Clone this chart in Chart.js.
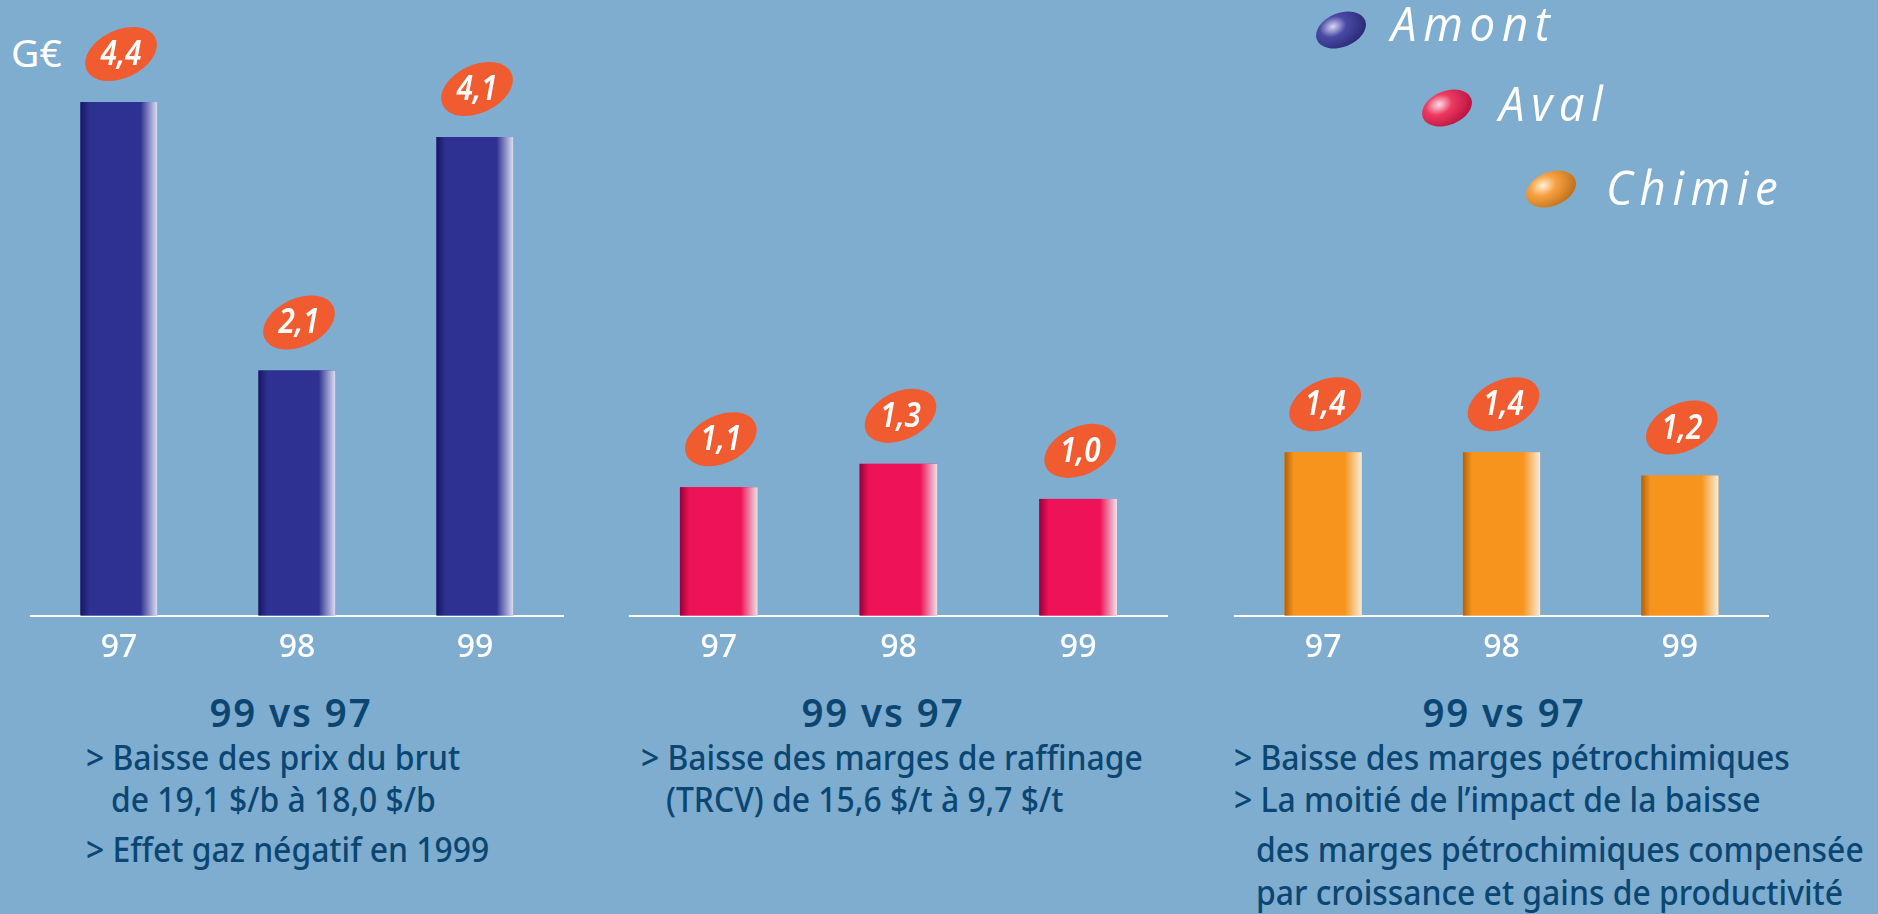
<!DOCTYPE html>
<html>
<head>
<meta charset="utf-8">
<script src="https://cdn.jsdelivr.net/npm/chart.js@4.4.0/dist/chart.umd.min.js"></script>
<style>
  html, body { margin: 0; padding: 0; }
  body { width: 1878px; height: 914px; background: #7eadcf; position: relative; overflow: hidden;
         font-family: "Noto Sans", sans-serif; }
  canvas { position: absolute; top: 0; }
  .unit { position: absolute; left: 11px; top: 25px; color: #fff; font-size: 39px; font-weight: 400; }
  .head { position: absolute; color: #0b4673; font-size: 40px; font-weight: 600; letter-spacing: 2px; white-space: nowrap;
          top: 684px; transform: translateX(-50%) scaleX(0.96); }
  .line { position: absolute; color: #0b4673; font-size: 35px; font-weight: 500; white-space: nowrap;
          transform: scaleX(0.91); transform-origin: left center; }
  .leg { position: absolute; color: #fff; font-size: 48px; font-style: italic; letter-spacing: 7px; font-family: "Open Sans", sans-serif;
         transform: scaleX(0.95); transform-origin: left center; }
  .dot { position: absolute; width: 52px; height: 34px; border-radius: 50%; transform: rotate(-22deg); }
</style>
</head>
<body>
<div class="unit">G€</div>

<canvas id="c1" width="534" height="680" style="left:30px"></canvas>
<canvas id="c2" width="539" height="680" style="left:629px"></canvas>
<canvas id="c3" width="535" height="680" style="left:1234px"></canvas>

<div class="dot" style="left:1315px;top:13px;background:radial-gradient(ellipse at 38% 32%, #d8d8f4 0%, #4a4aa6 30%, #1a1a60 100%)"></div>
<div class="leg" style="left:1391px;top:-10px">Amont</div>
<div class="dot" style="left:1421px;top:91px;background:radial-gradient(ellipse at 38% 32%, #ffe0e8 0%, #ec3a62 30%, #a0002e 100%)"></div>
<div class="leg" style="left:1499px;top:70px">Aval</div>
<div class="dot" style="left:1525px;top:172px;background:radial-gradient(ellipse at 38% 32%, #fff0d8 0%, #f6a040 30%, #a85a08 100%)"></div>
<div class="leg" style="left:1606px;top:154px">Chimie</div>

<div class="head" style="left:291px">99 vs 97</div>
<div class="line" style="left:86px;top:733px">&gt; Baisse des prix du brut</div>
<div class="line" style="left:111px;top:775px">de 19,1 $/b à 18,0 $/b</div>
<div class="line" style="left:86px;top:825px">&gt; Effet gaz négatif en 1999</div>

<div class="head" style="left:883px">99 vs 97</div>
<div class="line" style="left:641px;top:733px">&gt; Baisse des marges de raffinage</div>
<div class="line" style="left:666px;top:775px">(TRCV) de 15,6 $/t à 9,7 $/t</div>

<div class="head" style="left:1504px">99 vs 97</div>
<div class="line" style="left:1234px;top:733px">&gt; Baisse des marges pétrochimiques</div>
<div class="line" style="left:1234px;top:775px">&gt; La moitié de l’impact de la baisse</div>
<div class="line" style="left:1256px;top:825px">des marges pétrochimiques compensée</div>
<div class="line" style="left:1256px;top:868px">par croissance et gains de productivité</div>

<script>
var years = ['97', '98', '99'];
var amontValues = [4.4, 2.1, 4.1];
var avalValues = [1.1, 1.3, 1.0];
var chimieValues = [1.4, 1.4, 1.2];
var seriesNames = ['Amont', 'Aval', 'Chimie'];

// dark edge, main colour, light edge
var shades = {
    Amont: ['#1a1662', '#2e3192', '#dfe2f2'],
    Aval: ['#98003a', '#ee1258', '#ece4ea'],
    Chimie: ['#b0620c', '#f7941d', '#f6ecdc']
};

function fmt(v) {
    return v.toFixed(1).replace('.', ',');
}

// shaded bars and the orange value bubbles
var barDecor = {
    id: 'barDecor',
    afterDatasetsDraw: function(chart) {
        var ctx = chart.ctx;
        var ds = chart.data.datasets[0];
        var s = shades[ds.label];
        chart.getDatasetMeta(0).data.forEach(function(bar, i) {
            var left = bar.x - bar.width / 2, right = bar.x + bar.width / 2;
            var g = ctx.createLinearGradient(left, 0, right, 0);
            g.addColorStop(0, s[0]);
            g.addColorStop(0.12, s[1]);
            g.addColorStop(0.78, s[1]);
            g.addColorStop(1, s[2]);
            ctx.save();
            ctx.fillStyle = g;
            ctx.fillRect(left, bar.y, bar.width, bar.base - bar.y);

            var cy = bar.y - 48;
            ctx.translate(bar.x + 2, cy);
            ctx.rotate(-25 * Math.PI / 180);
            ctx.beginPath();
            ctx.ellipse(0, 0, 38, 24, 0, 0, Math.PI * 2);
            ctx.fillStyle = '#f15b30';
            ctx.fill();
            ctx.restore();

            ctx.save();
            ctx.fillStyle = '#fff';
            ctx.font = 'italic 600 35px "Noto Sans", sans-serif';
            ctx.textAlign = 'center';
            ctx.textBaseline = 'middle';
            ctx.translate(bar.x + 2, cy + 1);
            ctx.scale(0.85, 1);
            ctx.fillText(fmt(ds.data[i]), 0, 0);
            ctx.restore();
        });
    }
};

function makePanel(id, name, values) {
    return new Chart(document.getElementById(id).getContext('2d'), {
        type: 'bar',
        data: {
            labels: years,
            datasets: [{
                label: name,
                data: values,
                backgroundColor: shades[name][1],
                categoryPercentage: 1,
                barPercentage: 0.433
            }]
        },
        options: {
            responsive: false,
            animation: false,
            layout: { padding: { top: 32, left: 0, right: 0, bottom: 0 } },
            plugins: { legend: { display: false }, tooltip: { enabled: false } },
            scales: {
                x: {
                    grid: { display: false, drawTicks: false },
                    border: { display: true, color: '#ffffff', width: 2 },
                    ticks: { color: '#ffffff', padding: 13, font: { size: 32, weight: '500', family: '"Noto Sans", sans-serif' } }
                },
                y: { display: false, min: 0, max: 5 }
            }
        },
        plugins: [barDecor]
    });
}

makePanel('c1', seriesNames[0], amontValues);
makePanel('c2', seriesNames[1], avalValues);
makePanel('c3', seriesNames[2], chimieValues);
</script>
</body>
</html>
